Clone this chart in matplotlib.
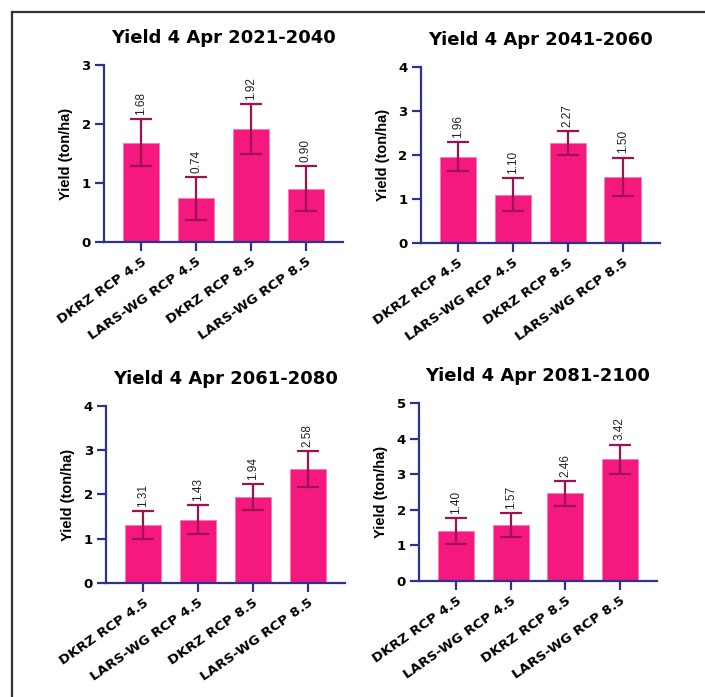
import numpy as np
import matplotlib
matplotlib.use("Agg")
import matplotlib.pyplot as plt
from matplotlib.lines import Line2D

# data
categories = ["DKRZ RCP 4.5", "LARS-WG RCP 4.5", "DKRZ RCP 8.5", "LARS-WG RCP 8.5"]
titles = ["Yield 4 Apr 2021-2040", "Yield 4 Apr 2041-2060",
          "Yield 4 Apr 2061-2080", "Yield 4 Apr 2081-2100"]
y_2021 = [1.68, 0.74, 1.92, 0.90]
e_2021 = [0.40, 0.36, 0.42, 0.38]
y_2041 = [1.96, 1.10, 2.27, 1.50]
e_2041 = [0.33, 0.37, 0.28, 0.44]
y_2061 = [1.31, 1.43, 1.94, 2.58]
e_2061 = [0.32, 0.33, 0.30, 0.41]
y_2081 = [1.40, 1.57, 2.46, 3.42]
e_2081 = [0.37, 0.33, 0.34, 0.41]
ymax = [3, 4, 4, 5]

bar_col = "#f5187f"
err_col = "#a0124f"
axis_col = "#2e3192"
sans = ["Liberation Sans", "DejaVu Sans"]
wide = "DejaVu Sans"

fig = plt.figure(figsize=(7.05, 6.97), dpi=100)
fig.patch.set_facecolor("white")

# axes boxes in figure fraction
boxes = [
    [0.1475, 0.6528, 0.3390, 0.2539],
    [0.5967, 0.6514, 0.3393, 0.2525],
    [0.1504, 0.1636, 0.3390, 0.2539],
    [0.5943, 0.1664, 0.3376, 0.2554],
]
series = [(y_2021, e_2021), (y_2041, e_2041), (y_2061, e_2061), (y_2081, e_2081)]

for i in range(4):
    ax = fig.add_axes(boxes[i])
    vals, errs = series[i]
    x = np.arange(len(categories))
    ax.bar(x, vals, width=0.66, color=bar_col, edgecolor="#f878b0", linewidth=0.6, zorder=2)
    ax.errorbar(x, vals, yerr=errs, fmt="none", ecolor=err_col, elinewidth=1.6,
                capsize=8, capthick=1.6, zorder=3)
    for xi, v, e in zip(x, vals, errs):
        ax.annotate("%.2f" % v, (xi, v + e), xytext=(0, 3), textcoords="offset points",
                    rotation=90, ha="center", va="bottom", fontsize=8.5,
                    family=sans, color="#222222")
    ax.set_xlim(-0.68, 3.68)
    ax.set_ylim(0, ymax[i])
    ax.set_yticks(range(ymax[i] + 1))
    ax.set_xticks(x)
    ax.set_xticklabels(categories, rotation=35, ha="right", rotation_mode="anchor",
                       fontsize=9.7, fontweight="bold", family=wide)
    for lab in ax.get_yticklabels():
        lab.set_fontweight("bold")
        lab.set_family(wide)
        lab.set_fontsize(9.5)
    ax.tick_params(axis="both", direction="out", length=6.5, width=1.6, color=axis_col, pad=3)
    ax.tick_params(axis="x", pad=3)
    for s in ["top", "right"]:
        ax.spines[s].set_visible(False)
    for s in ["left", "bottom"]:
        ax.spines[s].set_color(axis_col)
        ax.spines[s].set_linewidth(1.6)
    ax.set_ylabel("Yield (ton/ha)", fontsize=10.5, fontweight="bold", family=sans, labelpad=6)
    ax.set_title(titles[i], fontsize=13, fontweight="bold", family=wide, pad=16)

# frame lines of the source screenshot
fig.add_artist(Line2D([12 / 705, 12 / 705], [0, 1 - 12 / 697], color="#333333", lw=1.6))
fig.add_artist(Line2D([12 / 705, 1], [1 - 12 / 697, 1 - 12 / 697], color="#333333", lw=1.6))

fig.savefig("out.png", dpi=100)
